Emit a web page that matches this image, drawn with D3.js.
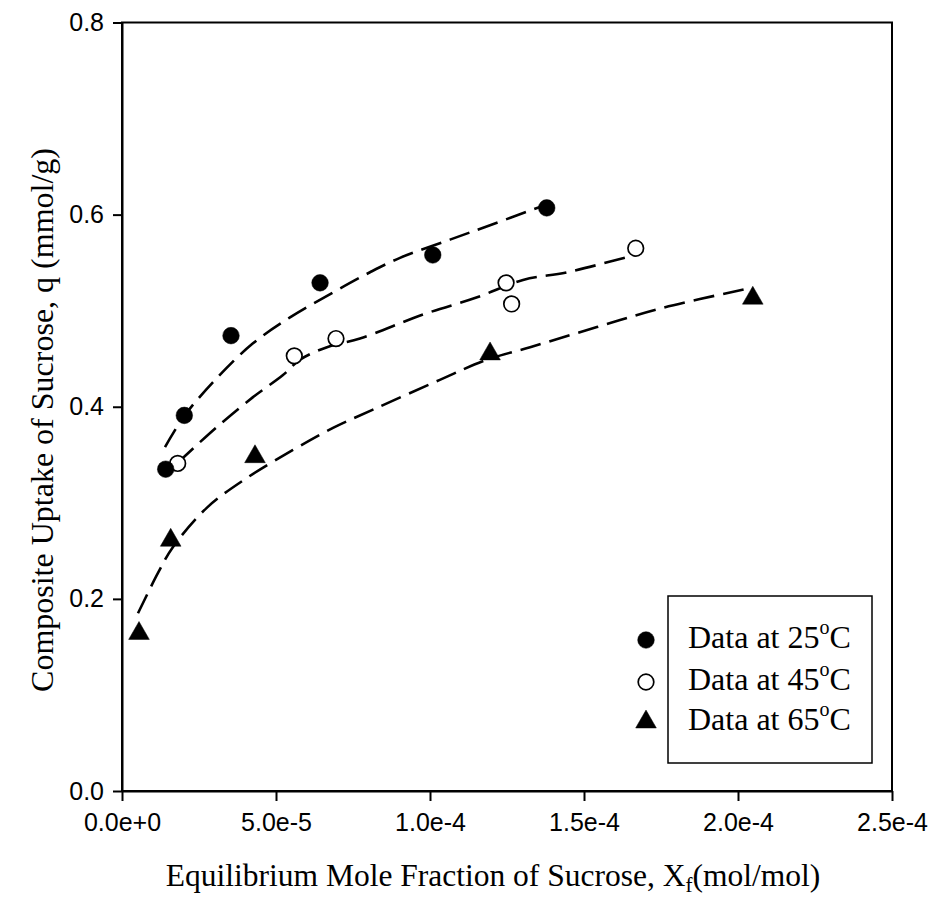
<!DOCTYPE html>
<html>
<head>
<meta charset="utf-8">
<script src="https://cdn.jsdelivr.net/npm/d3@7"></script>
<style>
  html, body { margin: 0; padding: 0; background: #fff; }
  svg { display: block; }
</style>
</head>
<body>
<svg id="chart" width="930" height="909"></svg>
<script>
// ---------------- data ----------------
const xTicks = [0, 5e-5, 1e-4, 1.5e-4, 2e-4, 2.5e-4];
const xTickLabels = ["0.0e+0", "5.0e-5", "1.0e-4", "1.5e-4", "2.0e-4", "2.5e-4"];
const yTicks = [0, 0.2, 0.4, 0.6, 0.8];
const yTickLabels = ["0.0", "0.2", "0.4", "0.6", "0.8"];

const seriesNames = ["Data at 25", "Data at 45", "Data at 65"];

// measured points
const x25 = [1.419e-5, 2.023e-5, 3.539e-5, 6.43e-5, 1.009e-4, 1.379e-4];
const q25 = [0.335, 0.391, 0.474, 0.529, 0.558, 0.607];
const x45 = [1.808e-5, 5.594e-5, 6.948e-5, 1.247e-4, 1.265e-4, 1.668e-4];
const q45 = [0.341, 0.453, 0.471, 0.529, 0.507, 0.565];
const x65 = [5.52e-6, 1.581e-5, 4.318e-5, 1.195e-4, 2.048e-4];
const q65 = [0.164, 0.261, 0.348, 0.455, 0.513];

// fitted (dashed) curves
const fitX25 = [1.396e-5, 2.013e-5, 3.084e-5, 4.253e-5, 5.455e-5, 6.851e-5, 8.052e-5, 9.026e-5, 1.065e-4, 1.195e-4, 1.357e-4];
const fitQ25 = [0.358, 0.390, 0.430, 0.466, 0.493, 0.519, 0.540, 0.555, 0.574, 0.589, 0.608];
const fitX45 = [1.818e-5, 3.084e-5, 4.253e-5, 5.227e-5, 5.779e-5, 6.656e-5, 7.727e-5, 9.773e-5, 1.153e-4, 1.302e-4, 1.445e-4, 1.666e-4];
const fitQ45 = [0.342, 0.379, 0.410, 0.433, 0.449, 0.462, 0.471, 0.496, 0.514, 0.532, 0.540, 0.558];
const fitX65 = [5.19e-6, 1.169e-5, 1.656e-5, 2.760e-5, 4.058e-5, 5.552e-5, 6.851e-5, 8.149e-5, 1.032e-4, 1.185e-4, 1.325e-4, 1.542e-4, 1.756e-4, 2.032e-4];
const fitQ65 = [0.185, 0.227, 0.254, 0.295, 0.326, 0.355, 0.378, 0.397, 0.428, 0.449, 0.462, 0.483, 0.503, 0.523];

// ---------------- layout ----------------
const plot = { left: 122, right: 892, top: 22.5, bottom: 791 };
const svg = d3.select("#chart");

const x = d3.scaleLinear().domain([0, 2.5e-4]).range([plot.left, plot.right]);
const y = d3.scaleLinear().domain([0, 0.8]).range([plot.bottom, plot.top]);

const serif = "'Liberation Serif', 'Times New Roman', serif";
const sans = "'Liberation Sans', Arial, sans-serif";

// frame
svg.append("rect")
  .attr("x", plot.left).attr("y", plot.top)
  .attr("width", plot.right - plot.left).attr("height", plot.bottom - plot.top)
  .attr("fill", "none").attr("stroke", "#000").attr("stroke-width", 2);

// axes
const xAxis = d3.axisBottom(x).tickValues(xTicks)
  .tickFormat((d, i) => xTickLabels[i]).tickSizeInner(10).tickSizeOuter(0).tickPadding(12);
const gx = svg.append("g").attr("transform", `translate(0,${plot.bottom})`).call(xAxis);
gx.select(".domain").attr("stroke-width", 2);
gx.selectAll(".tick line").attr("stroke-width", 2);
gx.selectAll(".tick text").attr("font-family", sans).attr("font-size", 25).attr("fill", "#000");

const yAxis = d3.axisLeft(y).tickValues(yTicks)
  .tickFormat((d, i) => yTickLabels[i]).tickSizeInner(9).tickSizeOuter(0).tickPadding(9);
const gy = svg.append("g").attr("transform", `translate(${plot.left},0)`).call(yAxis);
gy.select(".domain").attr("stroke-width", 2);
gy.selectAll(".tick line").attr("stroke-width", 2);
gy.selectAll(".tick text").attr("font-family", sans).attr("font-size", 25).attr("fill", "#000");

// axis titles
const xt = svg.append("text")
  .attr("x", (plot.left + plot.right) / 2 - 14).attr("y", 886)
  .attr("text-anchor", "middle")
  .attr("font-family", serif).attr("font-size", 31.5).attr("fill", "#000");
xt.append("tspan").text("Equilibrium Mole Fraction of Sucrose, X");
xt.append("tspan").attr("font-size", 21).attr("dy", 6).text("f");
xt.append("tspan").attr("dy", -6).text("(mol/mol)");

svg.append("text")
  .attr("transform", `translate(53,${420}) rotate(-90)`)
  .attr("text-anchor", "middle")
  .attr("font-family", serif).attr("font-size", 32).attr("fill", "#000")
  .text("Composite Uptake of Sucrose, q (mmol/g)");

// fitted dashed curves
const line = d3.line().x(d => x(d[0])).y(d => y(d[1])).curve(d3.curveCatmullRom.alpha(0.5));
const fits = [[fitX25, fitQ25], [fitX45, fitQ45], [fitX65, fitQ65]];
fits.forEach(([fx, fq]) => {
  svg.append("path")
    .datum(fx.map((v, i) => [v, fq[i]]))
    .attr("d", line)
    .attr("fill", "none").attr("stroke", "#000")
    .attr("stroke-width", 2.6)
    .attr("stroke-dasharray", "21,9");
});

// markers
const circleSym = d3.symbol().type(d3.symbolCircle).size(Math.PI * 8.3 * 8.3);
const openSym = d3.symbol().type(d3.symbolCircle).size(Math.PI * 7.8 * 7.8);
const triSym = d3.symbol().type(d3.symbolTriangle).size(185);

function drawPts(xs, qs, sym, fill) {
  svg.append("g").selectAll("path")
    .data(xs.map((v, i) => [v, qs[i]]))
    .join("path")
    .attr("transform", d => `translate(${x(d[0])},${y(d[1])})`)
    .attr("d", sym)
    .attr("fill", fill)
    .attr("stroke", "#000")
    .attr("stroke-width", fill === "#fff" ? 1.7 : 0.5);
}
drawPts(x45, q45, openSym, "#fff");
drawPts(x25, q25, circleSym, "#000");
drawPts(x65, q65, triSym, "#000");

// legend
const lg = svg.append("g");
lg.append("rect")
  .attr("x", 668).attr("y", 596).attr("width", 204).attr("height", 167)
  .attr("fill", "#fff").attr("stroke", "#000").attr("stroke-width", 1.5);
const legSyms = [[circleSym, "#000"], [openSym, "#fff"], [triSym, "#000"]];
const legBase = [648, 690, 730];
seriesNames.forEach((name, i) => {
  lg.append("path")
    .attr("transform", `translate(646,${legBase[i] - 8})`)
    .attr("d", legSyms[i][0])
    .attr("fill", legSyms[i][1]).attr("stroke", "#000")
    .attr("stroke-width", legSyms[i][1] === "#fff" ? 1.7 : 0.5);
  const t = lg.append("text")
    .attr("x", 688).attr("y", legBase[i])
    .attr("font-family", serif).attr("font-size", 32).attr("fill", "#000");
  t.append("tspan").text(name);
  t.append("tspan").attr("font-size", 20).attr("dy", -14).text("o");
  t.append("tspan").attr("dy", 14).text("C");
});
</script>
</body>
</html>
